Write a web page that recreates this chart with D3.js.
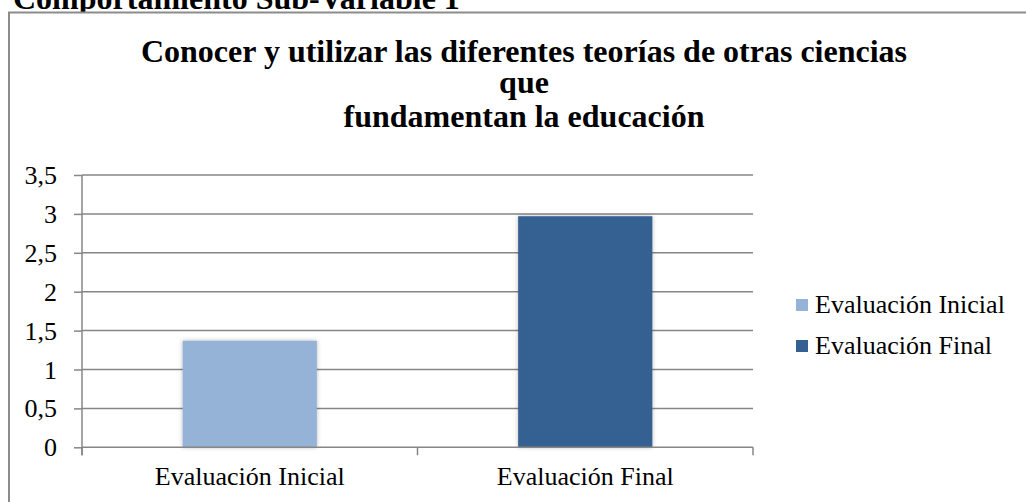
<!DOCTYPE html>
<html>
<head>
<meta charset="utf-8">
<script src="https://cdn.jsdelivr.net/npm/d3@7"></script>
<style>
  html, body { margin: 0; padding: 0; background: #fff; }
  svg { display: block; }
  text { font-family: "Liberation Serif", "Times New Roman", serif; fill: #000; }
</style>
</head>
<body>
<svg id="chart" width="1026" height="502"></svg>
<script>
const header = "Comportamiento Sub-Variable 1";
const titleLines = ["Conocer y utilizar las diferentes teorías de otras ciencias", "que", "fundamentan la educación"];
const categories = ["Evaluación Inicial", "Evaluación Final"];
const values = [1.37, 2.97];
const colors = ["#95b3d7", "#366092"];
const yTicks = [0, 0.5, 1, 1.5, 2, 2.5, 3, 3.5];

(function () {
const svg = d3.select("#chart");
const W = 1026, H = 502;

const defs = svg.append("defs");
const f = defs.append("filter").attr("id", "glow").attr("x", "-10%").attr("y", "-10%").attr("width", "120%").attr("height", "120%");
f.append("feGaussianBlur").attr("in", "SourceAlpha").attr("stdDeviation", 2).attr("result", "b");
f.append("feFlood").attr("flood-color", "#000").attr("flood-opacity", 0.28).attr("result", "c");
f.append("feComposite").attr("in", "c").attr("in2", "b").attr("operator", "in").attr("result", "s");
const m = f.append("feMerge");
m.append("feMergeNode").attr("in", "s");
m.append("feMergeNode").attr("in", "SourceGraphic");

// header (partly hidden behind the chart box)
svg.append("text").attr("x", 13).attr("y", 9)
  .attr("font-size", 32).attr("font-weight", "bold").text(header);

// chart box
svg.append("rect").attr("x", 9).attr("y", 12.5).attr("width", W + 20).attr("height", H + 20)
  .attr("fill", "#fff").attr("stroke", "#8c8c8c").attr("stroke-width", 2);

// title
const titleY = [62, 93, 127];
svg.append("g").selectAll("text").data(titleLines).join("text")
  .attr("x", 524).attr("y", (d, i) => titleY[i])
  .attr("text-anchor", "middle").attr("font-size", 32).attr("font-weight", "bold")
  .text(d => d);

const pL = 82, pR = 753, pT = 175, pB = 447.3;
const y = d3.scaleLinear().domain([0, 3.5]).range([pB, pT]);
const x = d3.scaleBand().domain(categories).range([pL, pR]).padding(0);

const gridColor = "#868686";

// gridlines
svg.append("g").selectAll("line").data(yTicks.filter(d => d > 0)).join("line")
  .attr("x1", pL).attr("x2", pR)
  .attr("y1", d => y(d)).attr("y2", d => y(d))
  .attr("stroke", gridColor).attr("stroke-width", 1.5);

// y axis
const yAxis = d3.axisLeft(y).tickValues(yTicks).tickSize(8).tickSizeOuter(0)
  .tickPadding(17).tickFormat(d => String(d).replace(".", ","));
const gy = svg.append("g").attr("transform", `translate(${pL},0)`).call(yAxis);
gy.select(".domain").remove();
gy.selectAll(".tick line").attr("stroke", gridColor).attr("stroke-width", 1.5);
gy.selectAll(".tick text").attr("font-size", 26).attr("font-family", "Liberation Serif, serif").attr("fill", "#000").attr("dy", "0.33em");
svg.append("line").attr("x1", pL).attr("x2", pL).attr("y1", pT).attr("y2", pB + 8)
  .attr("stroke", gridColor).attr("stroke-width", 1.5);

// bars
const bw = x.bandwidth() * 0.4;
svg.append("g").selectAll("rect").data(values).join("rect")
  .attr("x", (d, i) => x(categories[i]) + (x.bandwidth() - bw) / 2)
  .attr("width", bw)
  .attr("y", d => y(d))
  .attr("height", d => y(0) - y(d))
  .attr("fill", (d, i) => colors[i])
  .attr("filter", "url(#glow)");

// x axis
svg.append("line").attr("x1", pL).attr("x2", pR).attr("y1", pB).attr("y2", pB)
  .attr("stroke", gridColor).attr("stroke-width", 1.5);
const boundaries = categories.map(c => x(c)).concat([pR]);
svg.append("g").selectAll("line").data(boundaries).join("line")
  .attr("x1", d => d).attr("x2", d => d).attr("y1", pB).attr("y2", pB + 8)
  .attr("stroke", gridColor).attr("stroke-width", 1.5);
svg.append("g").selectAll("text").data(categories).join("text")
  .attr("x", d => x(d) + x.bandwidth() / 2).attr("y", 485)
  .attr("text-anchor", "middle").attr("font-size", 26).text(d => d);

// legend
const lg = svg.append("g");
categories.forEach((c, i) => {
  const yy = 313 + i * 41;
  lg.append("rect").attr("x", 796).attr("y", yy - 14).attr("width", 12).attr("height", 12).attr("fill", colors[i]);
  lg.append("text").attr("x", 815).attr("y", yy).attr("font-size", 26).text(c);
});
})();
</script>
</body>
</html>
